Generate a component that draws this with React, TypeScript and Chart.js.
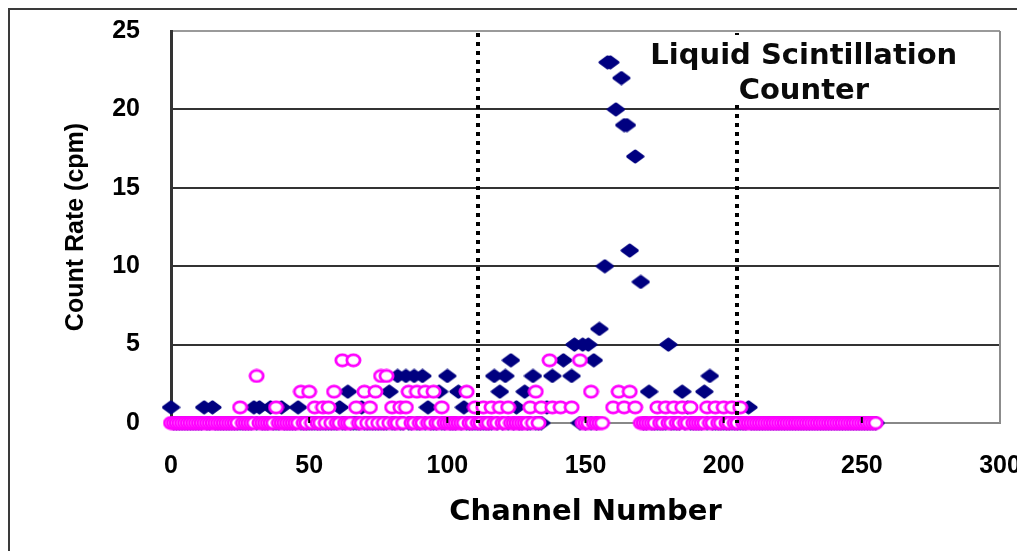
import { useEffect, useRef } from 'react';
import { Chart, registerables } from 'chart.js';

Chart.register(...registerables);

// Count rate (cpm) per channel 0..255 (null = not visible)
const sampleCounts: (number | null)[] = [
  1, 0, 0, 0, 0, 0, 0, 0, 0, 0, 0, 0, 1, 0, 0, 1,
  0, 0, 0, 0, 0, 0, 0, 0, 0, 0, 0, 0, 0, 0, 1, 0,
  1, 0, 0, 0, 1, 0, 0, 0, 1, 0, 0, 0, 0, 0, 1, 0,
  0, 0, 0, 0, 0, 0, 0, 0, 0, 0, 0, 0, 0, 1, 0, 0,
  2, 0, 0, 0, 0, 1, 0, 0, 0, 0, 0, 0, 0, 0, 0, 2,
  0, 0, 3, 0, 0, 3, 0, 0, 3, 0, 0, 3, 0, 1, 0, 0,
  0, 2, 0, 0, 3, 0, 0, 0, 2, 0, 1, 0, 0, 0, 0, 0,
  0, 0, 0, 0, 0, 3, 0, 2, 0, 3, 0, 4, 0, 1, 0, 0,
  2, 0, 0, 3, 0, 0, 0, null, 1, null, 3, null, null, null, 4, null,
  null, 3, 5, null, 0, 5, 0, 5, 0, 4, 0, 6, null, 10, 23, 23,
  null, 20, null, 22, 19, 19, 11, null, 17, null, 9, 0, 0, 2, 0, 0,
  0, 0, 0, 0, 5, 0, 0, 0, 0, 2, 0, 1, 0, 0, 0, 0,
  0, 2, 0, 3, 0, 0, 0, 0, 0, 0, 0, 0, 0, 0, 0, 0,
  0, 1, 0, 0, 0, 0, 0, 0, 0, 0, 0, 0, 0, 0, 0, 0,
  0, 0, 0, 0, 0, 0, 0, 0, 0, 0, 0, 0, 0, 0, 0, 0,
  0, 0, 0, 0, 0, 0, 0, 0, 0, 0, 0, 0, 0, 0, 0, 0,
];

const backgroundCounts: (number | null)[] = [
  0, 0, 0, 0, 0, 0, 0, 0, 0, 0, 0, 0, 0, 0, 0, 0,
  0, 0, 0, 0, 0, 0, 0, 0, 0, 1, 0, 0, 0, 0, 0, 3,
  0, 0, 0, 0, 0, 0, 1, 0, 0, 0, 0, 0, 0, 0, 0, 2,
  0, 0, 2, 0, 1, 0, 0, 1, 0, 1, 0, 2, 0, 0, 4, 0,
  0, 0, 4, 1, 0, 0, 2, 0, 1, 0, 2, 0, 3, 0, 3, 0,
  1, 0, 0, 1, 0, 1, 2, 0, 0, 2, 0, 0, 2, 0, 0, 2,
  0, 0, 1, 0, 0, 0, 0, 0, 0, 0, 0, 2, 0, 0, 1, 0,
  0, 1, 0, 0, 1, 0, 0, 1, 0, 0, 1, 0, 0, 0, 0, 0,
  0, 0, 1, 0, 2, 0, 1, null, null, 4, 1, null, null, 1, null, null,
  null, 1, null, null, 4, 0, 0, 0, 2, 0, 0, 0, 0, null, null, null,
  1, null, 2, null, 1, null, 2, null, 1, null, 0, 0, 0, 0, 0, 0,
  1, 0, 0, 1, 0, 0, 1, 0, 0, 1, 0, 0, 1, 0, 0, 0,
  0, 0, 1, 0, 0, 1, 0, 0, 1, 0, 0, 1, 0, 0, 1, 0,
  0, 0, 0, 0, 0, 0, 0, 0, 0, 0, 0, 0, 0, 0, 0, 0,
  0, 0, 0, 0, 0, 0, 0, 0, 0, 0, 0, 0, 0, 0, 0, 0,
  0, 0, 0, 0, 0, 0, 0, 0, 0, 0, 0, 0, 0, 0, 0, 0,
];

const windowChannels = [111, 205];
const annotationLines = ['Liquid Scintillation', 'Counter'];
const xTitle = 'Channel Number';
const yTitle = 'Count Rate (cpm)';

const ARIAL = "'Liberation Sans', Arial, sans-serif";
const WIDE = "'DejaVu Sans', 'Liberation Sans', sans-serif";

function makeFilledDiamond(): HTMLCanvasElement {
  const c = document.createElement('canvas');
  c.width = 19;
  c.height = 15;
  const g = c.getContext('2d')!;
  g.fillStyle = '#000080';
  g.strokeStyle = '#000080';
  g.lineWidth = 3;
  g.lineJoin = 'round';
  g.beginPath();
  g.moveTo(9.5, 2);
  g.lineTo(17, 7.5);
  g.lineTo(9.5, 13);
  g.lineTo(2, 7.5);
  g.closePath();
  g.fill();
  g.stroke();
  return c;
}

function makeHollowRing(): HTMLCanvasElement {
  const c = document.createElement('canvas');
  c.width = 17;
  c.height = 15;
  const g = c.getContext('2d')!;
  g.fillStyle = '#ffffff';
  g.strokeStyle = '#ff00ff';
  g.lineWidth = 2.8;
  g.beginPath();
  g.ellipse(8.5, 7.5, 6.6, 5.6, 0, 0, Math.PI * 2);
  g.fill();
  g.stroke();
  return c;
}

const overlayPlugin = {
  id: 'overlay',
  afterDatasetsDraw(chart: any) {
    const { ctx, chartArea, scales, width, height } = chart;
    const xs = scales.x;
    ctx.save();
    // inward x tick marks
    ctx.strokeStyle = '#000';
    ctx.lineWidth = 2;
    [50, 100, 150, 200, 250].forEach((v) => {
      const px = xs.getPixelForValue(v);
      ctx.beginPath();
      ctx.moveTo(px, chartArea.bottom);
      ctx.lineTo(px, chartArea.bottom - 6);
      ctx.stroke();
    });
    // plot right border
    ctx.strokeStyle = '#8c8c8c';
    ctx.lineWidth = 2;
    ctx.beginPath();
    ctx.moveTo(chartArea.right, chartArea.top);
    ctx.lineTo(chartArea.right, chartArea.bottom);
    ctx.stroke();
    // dotted window lines
    ctx.strokeStyle = '#000';
    ctx.lineWidth = 4;
    ctx.setLineDash([4, 5]);
    windowChannels.forEach((ch) => {
      const px = Math.round(xs.getPixelForValue(ch));
      ctx.beginPath();
      ctx.moveTo(px, chartArea.top + 2);
      ctx.lineTo(px, chartArea.bottom);
      ctx.stroke();
    });
    ctx.setLineDash([]);
    // annotation
    const cx = xs.getPixelForValue(229);
    ctx.fillStyle = '#ffffff';
    ctx.fillRect(cx - 160, chartArea.top + 4, 320, 69);
    ctx.fillStyle = '#0a0a0a';
    ctx.font = `bold 29px ${WIDE}`;
    ctx.textAlign = 'center';
    ctx.textBaseline = 'middle';
    ctx.fillText(annotationLines[0], cx, chartArea.top + 25);
    ctx.fillText(annotationLines[1], cx, chartArea.top + 60);
    // outer frame (top and left)
    ctx.strokeStyle = '#3a3a3a';
    ctx.lineWidth = 2;
    ctx.beginPath();
    ctx.moveTo(1, height);
    ctx.lineTo(1, 1);
    ctx.lineTo(width, 1);
    ctx.stroke();
    ctx.restore();
  },
};

export default function App() {
  const ref = useRef<HTMLCanvasElement | null>(null);

  useEffect(() => {
    if (!ref.current) return;
    const filled = makeFilledDiamond();
    const ring = makeHollowRing();
    const chart = new Chart(ref.current, {
      type: 'scatter',
      data: {
        datasets: [
          {
            label: 'Background',
            data: backgroundCounts.map((v, i) => ({ x: i, y: v })),
            pointStyle: ring,
            radius: 7,
            clip: false,
            showLine: false,
          } as any,
          {
            label: 'Sample',
            data: sampleCounts.map((v, i) => ({ x: i, y: v })),
            pointStyle: filled,
            radius: 7,
            clip: false,
            showLine: false,
          } as any,
        ],
      },
      options: {
        responsive: false,
        animation: false,
        events: [],
        layout: { padding: { left: 0, top: 23, right: 25, bottom: 21.6 } },
        plugins: { legend: { display: false }, tooltip: { enabled: false } },
        scales: {
          x: {
            type: 'linear',
            min: 0,
            max: 300,
            afterFit: (s: any) => {
              s.height = 106.4;
            },
            ticks: {
              stepSize: 50,
              padding: 0,
              color: '#000',
              font: { family: ARIAL, size: 25, weight: 'bold' },
              maxRotation: 0,
            },
            grid: {
              display: true,
              drawOnChartArea: false,
              drawTicks: true,
              tickLength: 28,
              color: 'rgba(0,0,0,0)',
              tickColor: 'rgba(0,0,0,0)',
            },
            border: { display: true, color: '#888', width: 2 },
            title: {
              display: true,
              text: xTitle,
              color: '#000',
              font: { family: WIDE, size: 29, weight: 'bold' },
              padding: { top: 0, bottom: 0 },
            },
          },
          y: {
            type: 'linear',
            min: 0,
            max: 25,
            afterFit: (s: any) => {
              s.width = 163;
            },
            ticks: {
              stepSize: 5,
              padding: 0,
              color: '#000',
              font: { family: ARIAL, size: 25, weight: 'bold' },
            },
            grid: {
              drawTicks: true,
              tickLength: 31,
              tickColor: 'rgba(0,0,0,0)',
              lineWidth: 2,
              color: (c: any) =>
                c.tick && c.tick.value === 0 ? '#888' : c.tick && c.tick.value === 25 ? '#9a9a9a' : '#333',
            },
            border: { display: true, color: '#333', width: 3 },
            title: {
              display: true,
              text: yTitle,
              color: '#000',
              font: { family: ARIAL, size: 25, weight: 'bold' },
              padding: { top: 53, bottom: 0 },
            },
          },
        },
      } as any,
      plugins: [overlayPlugin],
    });
    return () => chart.destroy();
  }, []);

  return (
    <div>
      <canvas ref={ref} width={1017} height={543} style={{ display: 'block', width: 1017, height: 543 }} />
    </div>
  );
}
